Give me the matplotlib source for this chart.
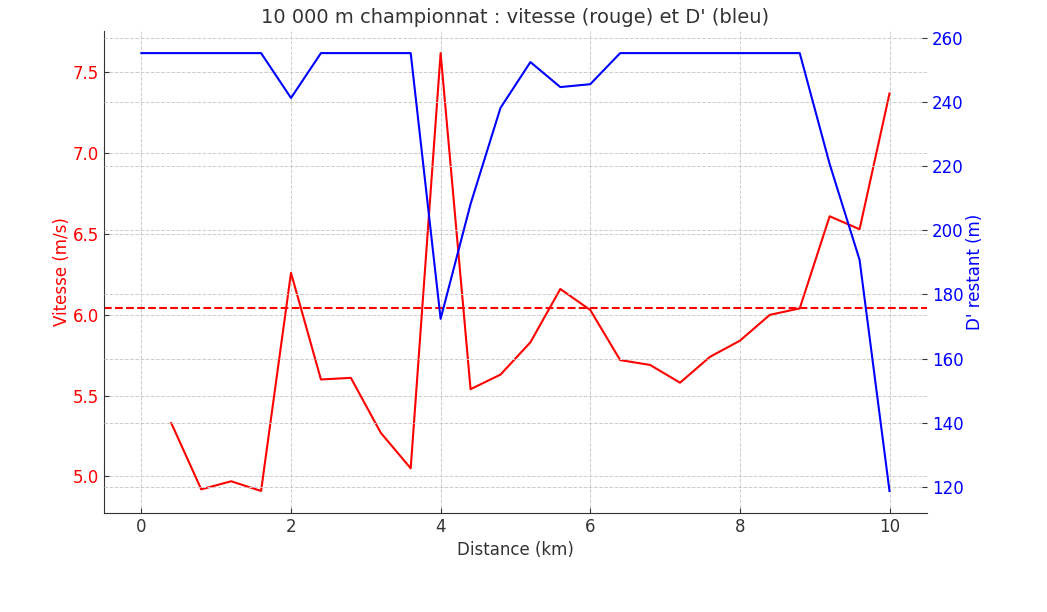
import numpy as np
import matplotlib.pyplot as plt

# distances (km) and values
dist_speed = [0.4, 0.8, 1.2, 1.6, 2.0, 2.4, 2.8, 3.2, 3.6, 4.0, 4.4, 4.8, 5.2,
              5.6, 6.0, 6.4, 6.8, 7.2, 7.6, 8.0, 8.4, 8.8, 9.2, 9.6, 10.0]
speed = [5.33, 4.92, 4.97, 4.91, 6.26, 5.60, 5.61, 5.27, 5.05, 7.62, 5.54, 5.63, 5.83,
         6.16, 6.03, 5.72, 5.69, 5.58, 5.74, 5.84, 6.00, 6.04, 6.61, 6.53, 7.37]
dist_dprime = [0.0] + dist_speed
dprime = [255.3, 255.3, 255.3, 255.3, 255.3, 241.3, 255.3, 255.3, 255.3, 255.3,
          172.4, 208.2, 238.2, 252.5, 244.7, 245.6, 255.3, 255.3, 255.3, 255.3,
          255.3, 255.3, 255.3, 220.7, 190.8, 118.7]
critical_speed = 6.045

text_col = '#333333'
grid_kw = dict(color='#cccccc', linestyle='--', linewidth=0.7)

fig = plt.figure(figsize=(10.47, 6.12), dpi=100)
ax = fig.add_axes([0.0993, 0.162, 0.786, 0.787])

ax.plot(dist_speed, speed, color='red', linewidth=1.5)
ax.axhline(critical_speed, color='red', linestyle='--', linewidth=1.5)
ax.set_xlabel('Distance (km)', fontsize=12, color=text_col)
ax.set_ylabel('Vitesse (m/s)', fontsize=12, color='red', labelpad=1.5)
ax.tick_params(axis='y', labelcolor='red', labelsize=12, color=text_col, direction='in')
ax.tick_params(axis='x', labelcolor=text_col, labelsize=12, color=text_col, direction='in')
ax.grid(True, **grid_kw)
ax.set_axisbelow(True)
for s in ['top', 'right']:
    ax.spines[s].set_visible(False)
ax.spines['left'].set_color(text_col)
ax.spines['bottom'].set_color(text_col)

ax2 = ax.twinx()
ax2.plot(dist_dprime, dprime, color='blue', linewidth=1.5)
ax2.set_ylabel("D' restant (m)", fontsize=12, color='blue', labelpad=1.5)
ax2.tick_params(axis='y', labelcolor='blue', labelsize=12, color=text_col, direction='in')
ax2.grid(True, **grid_kw)
for s in ['top', 'right', 'left', 'bottom']:
    ax2.spines[s].set_visible(False)

ax.set_title("10 000 m championnat : vitesse (rouge) et D' (bleu)", fontsize=14, color=text_col)

fig.savefig('out.png', dpi=100)
